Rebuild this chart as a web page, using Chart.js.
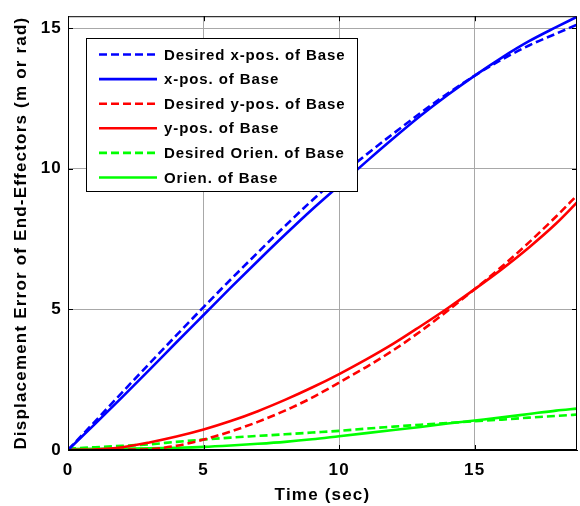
<!DOCTYPE html>
<html>
<head>
<meta charset="utf-8">
<script src="https://cdn.jsdelivr.net/npm/chart.js@4.4.0/dist/chart.umd.min.js"></script>
<style>
  html, body { margin: 0; padding: 0; background: #fff; }
  #wrap { width: 580px; height: 506px; }
</style>
</head>
<body>
<div id="wrap"><canvas id="chart"></canvas></div>
<script>
// Datos (tiempo en s, desplazamiento en m o rad)
const timeSec = [0, 1, 2, 3, 4, 5, 6, 7, 8, 9, 10, 11, 12, 13, 14, 15, 16, 17, 18, 18.77]

const desiredXPos = [0, 1.02, 2.05, 3.07, 4.08, 5.08, 6.06, 7.02, 7.96, 8.87, 9.72, 10.5, 11.25, 11.98, 12.67, 13.31, 13.88, 14.38, 14.8, 15.12]
const xPos = [0, 0.93, 1.88, 2.85, 3.83, 4.8, 5.77, 6.72, 7.65, 8.55, 9.4, 10.25, 11.08, 11.88, 12.62, 13.31, 13.95, 14.53, 15.03, 15.4]
const desiredYPos = [0, 0, 0.01, 0.03, 0.15, 0.37, 0.66, 1.0, 1.4, 1.86, 2.4, 2.95, 3.55, 4.22, 4.95, 5.72, 6.52, 7.38, 8.3, 9.05]
const yPos = [0, 0.02, 0.1, 0.27, 0.48, 0.73, 1.03, 1.38, 1.78, 2.22, 2.7, 3.22, 3.78, 4.4, 5.04, 5.72, 6.43, 7.2, 8.05, 8.8]
const desiredOrien = [0.05, 0.1, 0.15, 0.2, 0.29, 0.37, 0.44, 0.5, 0.56, 0.62, 0.68, 0.76, 0.83, 0.9, 0.96, 1.02, 1.08, 1.15, 1.21, 1.26]
const orien = [0.03, 0.04, 0.05, 0.06, 0.08, 0.11, 0.16, 0.22, 0.29, 0.38, 0.49, 0.6, 0.71, 0.82, 0.94, 1.05, 1.16, 1.28, 1.4, 1.47]

const seriesLabels = [
  "Desired x-pos. of Base",
  "x-pos. of Base",
  "Desired y-pos. of Base",
  "y-pos. of Base",
  "Desired Orien. of Base",
  "Orien. of Base",
]

const xTicks = [0, 5, 10, 15]
const yTicks = [0, 5, 10, 15]

const FONT = "'Liberation Sans', Arial, Helvetica, sans-serif"

function toPoints(values) {
  return timeSec.map((t, i) => ({ x: t, y: values[i] }))
}

function makeDataset(label, values, color, dashed) {
  return {
    label: label,
    data: toPoints(values),
    borderColor: color,
    backgroundColor: color,
    borderWidth: 2.6,
    borderDash: dashed ? [8, 4] : [],
    pointRadius: 0,
    cubicInterpolationMode: "monotone",
    fill: false,
  }
}

// Caja, marcas interiores y leyenda al estilo MATLAB
const matlabFrame = {
  id: "matlabFrame",
  beforeDraw(chart) {
    chart.ctx.letterSpacing = "1.2px"
  },
  afterDraw(chart) {
    const ctx = chart.ctx
    const area = chart.chartArea
    const xs = chart.scales.x
    const ys = chart.scales.y
    ctx.save()
    ctx.strokeStyle = "#000"
    ctx.lineWidth = 1
    ctx.setLineDash([])
    ctx.strokeRect(area.left + 0.5, area.top + 0.5, area.right - area.left - 1, area.bottom - area.top - 1)

    ctx.beginPath()
    xTicks.forEach((v) => {
      const px = Math.round(xs.getPixelForValue(v)) + 0.5
      ctx.moveTo(px, area.bottom)
      ctx.lineTo(px, area.bottom - 5)
      ctx.moveTo(px, area.top)
      ctx.lineTo(px, area.top + 5)
    })
    yTicks.forEach((v) => {
      const py = Math.round(ys.getPixelForValue(v)) + 0.5
      ctx.moveTo(area.left, py)
      ctx.lineTo(area.left + 5, py)
      ctx.moveTo(area.right, py)
      ctx.lineTo(area.right - 5, py)
    })
    ctx.stroke()

    // Leyenda
    const box = { left: 86.5, top: 38.5, right: 357.5, bottom: 191.5 }
    ctx.fillStyle = "#fff"
    ctx.fillRect(box.left, box.top, box.right - box.left, box.bottom - box.top)
    ctx.strokeStyle = "#000"
    ctx.strokeRect(box.left, box.top, box.right - box.left, box.bottom - box.top)

    ctx.font = "bold 15px " + FONT
    ctx.letterSpacing = "0.9px"
    ctx.textBaseline = "middle"
    ctx.textAlign = "left"
    chart.data.datasets.forEach((ds, i) => {
      const y = 54.5 + i * 24.6
      ctx.beginPath()
      ctx.strokeStyle = ds.borderColor
      ctx.lineWidth = ds.borderWidth
      ctx.setLineDash(ds.borderDash)
      ctx.moveTo(99, y)
      ctx.lineTo(157, y)
      ctx.stroke()
      ctx.fillStyle = "#000"
      ctx.fillText(ds.label, 164, y + 1)
    })
    ctx.restore()
  },
}

window.addEventListener("load", () => {
  const ctx = document.getElementById("chart").getContext("2d")
  new Chart(ctx, {
    type: "line",
    data: {
      datasets: [
        makeDataset(seriesLabels[0], desiredXPos, "#0000ff", true),
        makeDataset(seriesLabels[1], xPos, "#0000ff", false),
        makeDataset(seriesLabels[2], desiredYPos, "#ff0000", true),
        makeDataset(seriesLabels[3], yPos, "#ff0000", false),
        makeDataset(seriesLabels[4], desiredOrien, "#00ff00", true),
        makeDataset(seriesLabels[5], orien, "#00ff00", false),
      ],
    },
    options: {
      responsive: true,
      maintainAspectRatio: false,
      animation: false,
      layout: { padding: { top: 8, right: 3, left: 0, bottom: 0 } },
      plugins: {
        legend: { display: false },
        tooltip: { enabled: false },
      },
      scales: {
        x: {
          type: "linear",
          min: 0,
          max: 18.77,
          afterBuildTicks: (scale) => { scale.ticks = xTicks.map((v) => ({ value: v })) },
          afterFit: (scale) => { scale.height = 56 },
          grid: { color: "#a8a8a8", lineWidth: 1, drawTicks: false },
          border: { display: true, color: "#000", width: 1 },
          ticks: {
            color: "#000",
            padding: 10,
            maxRotation: 0,
            font: { family: FONT, size: 17, weight: "bold" },
          },
          title: {
            display: true,
            text: "Time (sec)",
            color: "#000",
            padding: { top: 0, bottom: 0 },
            font: { family: FONT, size: 17, weight: "bold" },
          },
        },
        y: {
          type: "linear",
          min: 0,
          max: 15.42,
          afterBuildTicks: (scale) => { scale.ticks = yTicks.map((v) => ({ value: v })) },
          afterFit: (scale) => { scale.width = 68 },
          grid: { color: "#a8a8a8", lineWidth: 1, drawTicks: false },
          border: { display: true, color: "#000", width: 1 },
          ticks: {
            color: "#000",
            padding: 6,
            font: { family: FONT, size: 17, weight: "bold" },
          },
          title: {
            display: true,
            text: "Displacement Error of End-Effectors (m or rad)",
            color: "#000",
            padding: { top: 11, bottom: 0 },
            font: { family: FONT, size: 17, weight: "bold" },
          },
        },
      },
    },
    plugins: [matlabFrame],
  })
})
</script>
</body>
</html>
